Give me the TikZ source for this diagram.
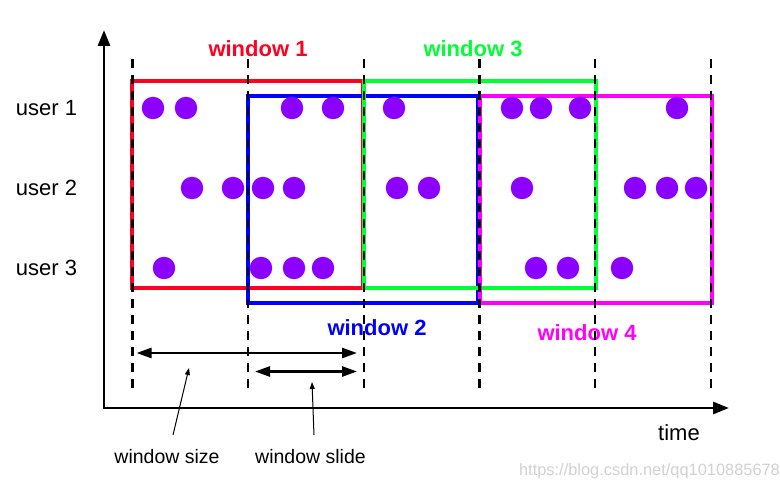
\documentclass[tikz,border=0pt]{standalone}
\usepackage{fontspec}
\setmainfont{Liberation Sans}
\usepackage{xcolor}
\usepackage{tikz}
\usetikzlibrary{positioning, arrows.meta}

\definecolor{winred}{RGB}{255,0,34}
\definecolor{wingreen}{RGB}{0,255,51}
\definecolor{winblue}{RGB}{0,0,255}
\definecolor{winpink}{RGB}{255,0,255}
\definecolor{evpurple}{RGB}{140,0,255}

\begin{document}
\begin{tikzpicture}[
    x=1pt, y=-1pt,
    >={Triangle[length=16pt, width=12pt]},
    font=\fontsize{22}{26}\selectfont,
    axis/.style={<->, line width=2.9pt},
    win/.style={draw, line width=3.4pt, minimum width=231pt, minimum height=207pt, inner sep=0pt},
    wintitle/.style={font=\fontsize{22}{26}\selectfont\bfseries},
    event/.style={circle, fill=evpurple, minimum size=22.5pt, inner sep=0pt},
    tick/.style={line width=2.2pt, dash pattern=on 9pt off 7pt},
    span/.style={{Triangle[length=15pt, width=10pt]}-{Triangle[length=15pt, width=10pt]}, line width=2.6pt},
    pointer/.style={-{Triangle[length=7pt, width=5pt]}, line width=1pt},
    note/.style={font=\fontsize{19.5}{23}\selectfont}
]
\useasboundingbox (0,0) rectangle (780,489);

% Axes
\coordinate (origin) at (104,408);
\coordinate (ytop) at (104,30);
\coordinate (xend) at (729,408);
\draw[axis] (ytop) -- (origin) -- (xend);
\node (time) at (679,433) {time};

% Windows
\node[win, draw=winred] (win1) at (247.5,184.5) {};
\node[win, draw=winblue, minimum width=230pt] (win2) at (363,199.5) {};
\node[win, draw=wingreen, minimum width=232pt] (win3) at (480,184.5) {};
\node[win, draw=winpink, minimum width=232pt] (win4) at (596,199.5) {};
\node[wintitle, text=winred] (win1title) at (258,49) {window 1};
\node[wintitle, text=winblue] (win2title) at (377,328) {window 2};
\node[wintitle, text=wingreen] (win3title) at (473,49) {window 3};
\node[wintitle, text=winpink] (win4title) at (587,333) {window 4};

% Users
\node (user1) at (46.5,108) {user 1};
\node (user2) at (46.5,188) {user 2};
\node (user3) at (46.5,268) {user 3};

% Events
\node[event] (u1a) at (153,108) {}; \node[event] (u1b) at (186,108) {}; \node[event] (u1c) at (292,108) {};
\node[event] (u1d) at (333,108) {}; \node[event] (u1e) at (394,108) {}; \node[event] (u1f) at (512,108) {};
\node[event] (u1g) at (541,108) {}; \node[event] (u1h) at (580,108) {}; \node[event] (u1i) at (677,108) {};
\node[event] (u2a) at (192,188) {}; \node[event] (u2b) at (233,188) {}; \node[event] (u2c) at (263,188) {};
\node[event] (u2d) at (294,188) {}; \node[event] (u2e) at (397,188) {}; \node[event] (u2f) at (429,188) {};
\node[event] (u2g) at (522,188) {}; \node[event] (u2h) at (635,188) {}; \node[event] (u2i) at (667,188) {};
\node[event] (u2j) at (696,188) {};
\node[event] (u3a) at (164,268) {}; \node[event] (u3b) at (261,268) {}; \node[event] (u3c) at (294,268) {};
\node[event] (u3d) at (323,268) {}; \node[event] (u3e) at (536,268) {}; \node[event] (u3f) at (568,268) {};
\node[event] (u3g) at (622,268) {};

% Time marks
\coordinate (m0) at (132.5,59);  \coordinate (n0) at (132.5,388);
\coordinate (m1) at (248.2,59);  \coordinate (n1) at (248.2,388);
\coordinate (m2) at (363.8,59);  \coordinate (n2) at (363.8,388);
\coordinate (m3) at (479.4,59);  \coordinate (n3) at (479.4,388);
\coordinate (m4) at (595.1,59);  \coordinate (n4) at (595.1,388);
\coordinate (m5) at (710.7,59);  \coordinate (n5) at (710.7,388);
\draw[tick] (m0) -- (n0);
\draw[tick] (m1) -- (n1);
\draw[tick] (m2) -- (n2);
\draw[tick] (m3) -- (n3);
\draw[tick] (m4) -- (n4);
\draw[tick] (m5) -- (n5);

% Size and slide
\coordinate (sizeL) at (136.5,353);
\coordinate (sizeR) at (357,353);
\coordinate (slideL) at (255,371.5);
\coordinate (slideR) at (357,371.5);
\draw[span] (sizeL) -- (sizeR);
\draw[span] (slideL) -- (slideR);
\node[note] (sizelbl) at (167,457) {window size};
\node[note] (slidelbl) at (310.5,457) {window slide};
\coordinate (sizefoot) at (173,435);
\coordinate (sizetip) at (189,368);
\coordinate (slidefoot) at (314,435);
\coordinate (slidetip) at (312,382);
\draw[pointer] (sizefoot) -- (sizetip);
\draw[pointer] (slidefoot) -- (slidetip);

\node[font=\fontsize{16.4}{19}\selectfont, text=black!18] (mark) at (649.5,471) {https://blog.csdn.net/qq1010885678};
\end{tikzpicture}
\end{document}
